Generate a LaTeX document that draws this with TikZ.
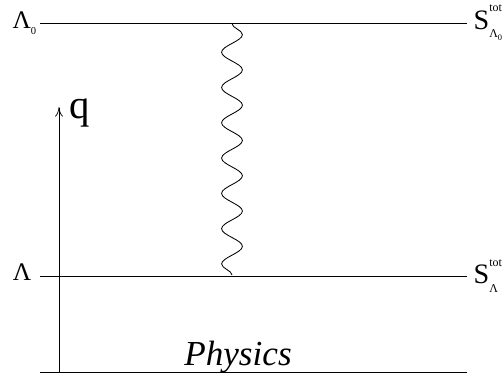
\documentclass[tikz,border=0pt]{standalone}
\usepackage{fontspec}
\setmainfont{Liberation Serif}
\usepackage{tikz}
\usetikzlibrary{arrows.meta, positioning, decorations.pathmorphing}

% small script pieces for the scale labels
\newcommand{\actlabel}[1]{S\rlap{\raisebox{12.5pt}{\fontsize{8.5}{8.5}\selectfont tot}}\raisebox{-6pt}{\fontsize{8.5}{8.5}\selectfont #1}}
\newcommand{\lamzero}{Λ\raisebox{-2pt}{\fontsize{6}{6}\selectfont 0}}

\tikzset{
  level/.style={line width=0.7pt},
  cutofflab/.style={inner sep=0pt, font=\fontsize{18}{18}\selectfont},
  actionlab/.style={inner sep=0pt, font=\fontsize{20}{20}\selectfont},
  flowarrow/.style={-{To[length=2.4mm,width=2mm]}, line width=0.5pt},
  gluon/.style={decorate, line width=0.6pt,
    decoration={snake, amplitude=0.26cm, segment length=0.882cm}}
}

\begin{document}
\begin{tikzpicture}[x=0.025cm, y=-0.025cm]
  \useasboundingbox (0,0) rectangle (504,376);

  % ends of the three horizontal lines
  \coordinate (topL) at (40,23);
  \coordinate (topR) at (467,23);
  \coordinate (botL) at (40,276);
  \coordinate (botR) at (467,276);
  \coordinate (physL) at (40,372);
  \coordinate (physR) at (467,372);

  % flow of the scale
  \coordinate (qfoot) at (59,372);
  \coordinate (qtip) at (59,107);

  % ends of the wavy line
  \coordinate (wtop) at (232,23);
  \coordinate (wbot) at (232,275);

  \draw[level] (topL) -- (topR);
  \draw[level] (botL) -- (botR);
  \draw[level] (physL) -- (physR);

  \node[cutofflab, left=2.5pt of topL] (lam0) {Λ\raisebox{-4pt}{\fontsize{7.5}{7.5}\selectfont 0}};
  \node[cutofflab, left=6pt of botL, yshift=3pt] (lam) {Λ};
  \node[actionlab, right=4.5pt of topR] (stop) {\actlabel{\lamzero}};
  \node[actionlab, right=4.5pt of botR] (sbot) {\actlabel{Λ}};

  \draw[flowarrow] (qfoot) -- (qtip);
  \node[font=\fontsize{29}{29}\selectfont, anchor=base] (qlab) at (80,118) {q};

  \draw[gluon] (wbot) -- (wtop);

  \node[font=\fontsize{25}{25}\itshape, anchor=base] (phys) at (238,365) {Physics};
\end{tikzpicture}
\end{document}
